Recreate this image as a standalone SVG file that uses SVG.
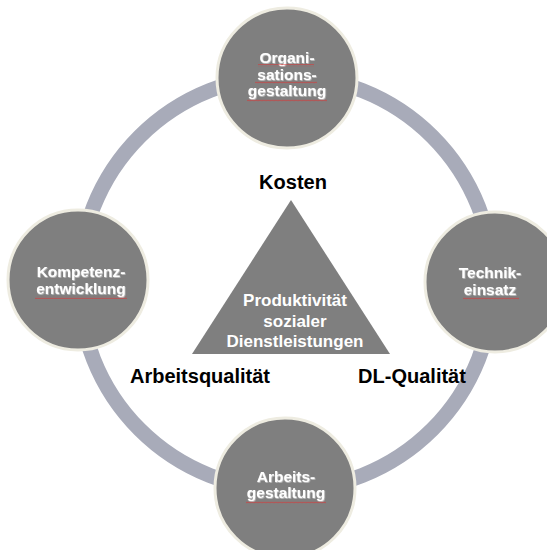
<svg xmlns="http://www.w3.org/2000/svg" width="547" height="550" viewBox="0 0 547 550">
<defs>
<pattern id="sq" patternUnits="userSpaceOnUse" width="4" height="3">
<path d="M0,2.2 L1,0.8 L2,2.2 L3,0.8 L4,2.2" fill="none" stroke="#e03030" stroke-width="0.6"/>
</pattern>
<filter id="sh" x="-10%" y="-10%" width="120%" height="130%">
<feDropShadow dx="0.6" dy="0.8" stdDeviation="0.3" flood-color="#d8d8d8" flood-opacity="0.8"/>
</filter>
</defs>
<style>
.node{fill:#7f7f7f;stroke:#eeece1;stroke-width:3}
.nt{font-family:"Liberation Sans",Arial,sans-serif;font-weight:bold;font-size:15.5px;fill:#ffffff;text-anchor:middle}
.lab{font-family:"Liberation Sans",Arial,sans-serif;font-weight:bold;font-size:20px;fill:#000000;text-anchor:middle}
.tt{font-family:"Liberation Sans",Arial,sans-serif;font-weight:bold;font-size:17px;fill:#ffffff;text-anchor:middle}
.sq{fill:url(#sq);opacity:0.85}
</style>
<rect width="547" height="550" fill="#ffffff"/>
<g id="connectors">
<circle cx="286" cy="283" r="207" fill="none" stroke="#a8abb9" stroke-width="15"/>
</g>
<g id="triangle">
<polygon points="291,200 390,354 192,354" fill="#7f7f7f"/>
<text class="tt" x="295" y="306">Produktivität</text>
<text class="tt" x="295" y="327">sozialer</text>
<text class="tt" x="295" y="347">Dienstleistungen</text>
</g>
<g id="labels">
<text class="lab" x="293" y="189">Kosten</text>
<text class="lab" x="200" y="383">Arbeitsqualität</text>
<text class="lab" x="412" y="383">DL-Qualität</text>
</g>
<g id="node-organisation">
<circle class="node" cx="287" cy="78" r="70"/>
<g filter="url(#sh)">
<text class="nt" x="287" y="63">Organi-</text>
<text class="nt" x="287" y="80">sations-</text>
<text class="nt" x="287" y="96">gestaltung</text>
</g>
<rect class="sq" x="258" y="64" width="56" height="3"/>
<rect class="sq" x="255" y="81" width="62" height="3"/>
<rect class="sq" x="247" y="99" width="80" height="3"/>
</g>
<g id="node-kompetenz">
<circle class="node" cx="78" cy="280" r="70"/>
<g filter="url(#sh)">
<text class="nt" x="81" y="277">Kompetenz-</text>
<text class="nt" x="81" y="294">entwicklung</text>
</g>
<rect class="sq" x="35" y="296" width="92" height="3"/>
</g>
<g id="node-technik">
<circle class="node" cx="495" cy="282" r="70"/>
<g filter="url(#sh)">
<text class="nt" x="490" y="278">Technik-</text>
<text class="nt" x="490" y="295">einsatz</text>
</g>
<rect class="sq" x="463" y="297" width="56" height="3"/>
</g>
<g id="node-arbeitsgestaltung">
<circle class="node" cx="285" cy="488" r="70"/>
<g filter="url(#sh)">
<text class="nt" x="286" y="482">Arbeits-</text>
<text class="nt" x="286" y="498">gestaltung</text>
</g>
<rect class="sq" x="246" y="501" width="80" height="3"/>
</g>
</svg>
